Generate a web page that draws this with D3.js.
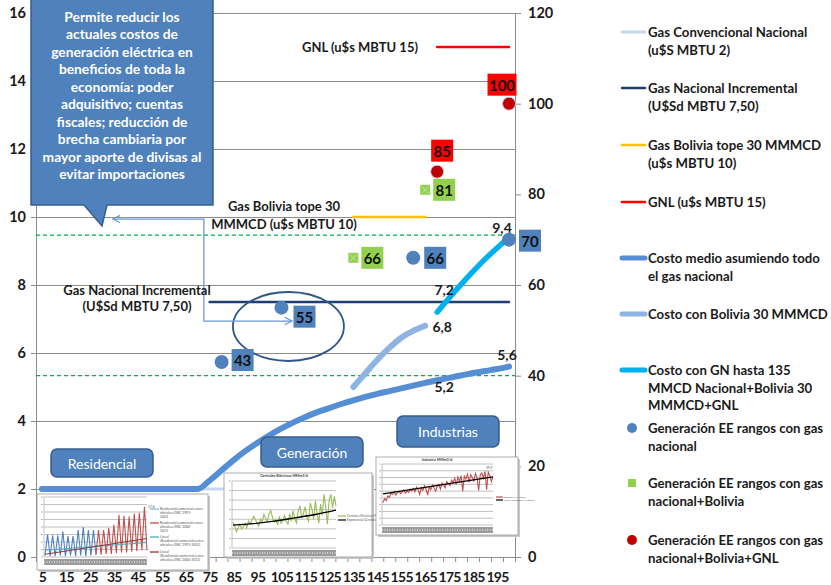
<!DOCTYPE html>
<html>
<head>
<meta charset="utf-8">
<script src="https://cdn.jsdelivr.net/npm/d3@7"></script>
<style>
  body { margin: 0; background: #fff; }
  svg { display: block; font-family: Lato, "Open Sans", sans-serif; }
</style>
</head>
<body>
<svg id="chart" width="831" height="585"></svg>
<script>
// ---- Data --------------------------------------------------------------
// Demand categories (MMm3/d)
const categories = [5,10,15,20,25,30,35,40,45,50,55,60,65,70,75,80,85,90,95,100,
                    105,110,115,120,125,130,135,140,145,150,155,160,165,170,175,180,185,190,195,200];
const xTickLabels = [5,15,25,35,45,55,65,75,85,95,105,115,125,135,145,155,165,175,185,195];
const leftTicks = [0,2,4,6,8,10,12,14,16];
const rightTicks = [0,20,40,60,80,100,120];

// Gas prices (u$s/MBTU), flat segments
const gasConvencionalX = [5, 85];      const gasConvencionalY = [2, 2];
const gasIncrementalX  = [75, 200];    const gasIncrementalY  = [7.5, 7.5];
const gasBoliviaX      = [135, 165];   const gasBoliviaY      = [10, 10];
const gnlX             = [170, 200];   const gnlY             = [15, 15];

// Average cost assuming all domestic gas
const costoMedioY = [2,2,2,2,2,2,2,2,2,2,2,2,2,2,
                     2.25,2.55,2.85,3.12,3.36,3.58,3.78,3.96,4.12,4.26,4.38,4.5,4.61,4.71,
                     4.8,4.88,4.96,5.04,5.12,5.2,5.27,5.34,5.41,5.47,5.53,5.6];
// Cost with Bolivia 30 MMMCD
const costoBoliviaX = [135,140,145,150,155,160,165];
const costoBoliviaY = [5.0,5.4,5.8,6.15,6.45,6.65,6.8];
// Cost with domestic gas up to 135 + Bolivia 30 + LNG
const costoGnlX = [170,175,180,185,190,195,200];
const costoGnlY = [7.2,7.62,8.02,8.4,8.76,9.09,9.4];

// Power generation cost ranges (right axis)
const genNacionalX = [80,105,160,200];  const genNacionalV = [43,55,66,70];
const genBoliviaX  = [135,165];         const genBoliviaV  = [66,81];
const genGnlX      = [170,200];         const genGnlV      = [85,100];

// Value labels on the cost curves
const costLabelX = [170,200,165,170,200];
const costLabelY = [5.2,5.6,6.8,7.2,9.4];

// Reference levels (right axis)
const refLevels = [40, 71];

// Sector thumbnails
const resBlue = [0.2,3.0,0.1,2.9,0.1,2.9,0.2,3.4,0.1,2.8,0.2,2.8,0.1,3.6,0.2,4.0,0.1,3.6,0.2,3.6,0.3];
const resRed  = [0.3,3.6,0.3,3.6,0.4,3.9,0.4,4.3,0.5,5.6,0.6,5.5,0.6,5.4,0.7,5.8,0.8,5.9,0.9,6.7,0.9];
const resTrendBlue = [0.9, 1.93];
const resTrendRed  = [0.36, 2.47];
const genGreen = [2.7,2.3,1.7,2.1,2.5,2.0,2.2,2.6,2.1,2.8,2.5,2.9,3.3,3.0,2.6,2.3,3.0,2.7,3.5,3.1,
                  2.8,3.6,3.9,3.2,2.7,3.0,2.4,3.3,2.6,2.9,3.4,2.8,2.5,3.6,2.8,3.9,3.0,2.6,3.9,4.4,
                  3.1,3.6,4.3,3.2,2.8,4.7,4.1,3.0,4.9,3.6,2.6,4.6,3.4,5.6,4.3,2.5,5.0,5.6,4.2,5.4,4.4];
const genTrend = [2.4,2.55,2.8,3.15,3.5,3.95];
const indRed = [3.3,3.9,3.6,4.3,4.1,4.7,4.5,4.9,4.4,4.8,5.0,4.6,4.9,5.2,4.7,5.0,4.8,5.3,5.0,5.4,
                4.9,5.6,5.2,4.5,5.5,5.1,5.8,5.3,4.4,5.6,5.2,5.9,5.5,5.0,5.7,6.0,5.3,6.2,5.9,5.5,
                6.4,6.1,5.8,6.6,6.3,6.9,6.0,7.1,6.4,7.3,5.0,7.2,6.8,7.5,6.3,7.4,7.0,6.5,7.6,7.0,
                5.1,7.4,7.7,6.9,7.9,5.2,7.8,7.3,6.4,7.1];
const indTrend = [4.6, 7.1];

const calloutLines = ["Permite reducir los","actuales costos de","generación eléctrica en",
  "beneficios de toda la","economía: poder","adquisitivo; cuentas","fiscales; reducción de",
  "brecha cambiaria por","mayor aporte de divisas al","evitar importaciones"];

// ---- Scales ------------------------------------------------------------
const svg = d3.select("#chart");
const L = 36, R = 515, T = 13, B = 557;
const x  = d3.scaleLinear().domain([2.5, 202.5]).range([L, R]);
const yL = d3.scaleLinear().domain([0, 16]).range([B, T]);
const yR = d3.scaleLinear().domain([0, 120]).range([B, T]);
const fmt = v => String(v).replace(".", ",");
const GRID = "#8c8c8c";

// ---- Grid and axes -----------------------------------------------------
const grid = svg.append("g").attr("transform", `translate(${L},0)`)
  .call(d3.axisLeft(yL).tickValues(leftTicks.slice(1)).tickSize(-(R - L)).tickFormat(""));
grid.select(".domain").remove();
grid.selectAll("line").attr("stroke", GRID).attr("stroke-width", 1);

const axL = svg.append("g").attr("transform", `translate(${L},0)`)
  .call(d3.axisLeft(yL).tickValues(leftTicks).tickSize(5).tickPadding(5).tickSizeOuter(0));
const axR = svg.append("g").attr("transform", `translate(${R},0)`)
  .call(d3.axisRight(yR).tickValues(rightTicks).tickSize(6).tickPadding(7).tickSizeOuter(0));
const boundaries = categories.map(c => c - 2.5).concat([202.5]);
const axB = svg.append("g").attr("transform", `translate(0,${B})`)
  .call(d3.axisBottom(x).tickValues(boundaries).tickSize(5).tickFormat("").tickSizeOuter(0));
const axBL = svg.append("g").attr("transform", `translate(0,${B})`)
  .call(d3.axisBottom(x).tickValues(xTickLabels).tickSize(0).tickPadding(15));
axBL.select(".domain").remove();
[axL, axR, axB].forEach(a => {
  a.select(".domain").attr("stroke", GRID);
  a.selectAll("line").attr("stroke", GRID);
});
[axL, axR, axBL].forEach(a => a.selectAll("text")
  .attr("font-family", "Lato, sans-serif").attr("font-weight", 700)
  .attr("font-size", 14.5).attr("fill", "#1a1a1a"));
axBL.selectAll("text").attr("font-size", 14).attr("letter-spacing", -0.7);

// ---- Reference dashed levels -------------------------------------------
svg.append("g").selectAll("line").data(refLevels).join("line")
  .attr("x1", L).attr("x2", R)
  .attr("y1", d => yR(d)).attr("y2", d => yR(d))
  .attr("stroke", "#00b050").attr("stroke-width", 1.2).attr("stroke-dasharray", "4,3");

// ---- Lines -------------------------------------------------------------
const lineL = d3.line().x(d => x(d[0])).y(d => yL(d[1])).curve(d3.curveMonotoneX);
const zip = (a, b) => a.map((v, i) => [v, b[i]]);
function drawLine(xs, ys, color, w) {
  svg.append("path").datum(zip(xs, ys)).attr("d", lineL)
    .attr("fill", "none").attr("stroke", color).attr("stroke-width", w)
    .attr("stroke-linecap", "round").attr("stroke-linejoin", "round");
}
drawLine(gasConvencionalX, gasConvencionalY, "#c6d9f1", 3);
drawLine(gasIncrementalX, gasIncrementalY, "#1f3f6e", 2.5);
drawLine(gasBoliviaX, gasBoliviaY, "#ffc000", 2.5);
drawLine(gnlX, gnlY, "#ff0000", 2.5);
drawLine(categories, costoMedioY, "#558ed5", 6);
drawLine(costoBoliviaX, costoBoliviaY, "#8eb4e3", 6);
drawLine(costoGnlX, costoGnlY, "#00b0f0", 5.5);

// value labels on cost curves
const costLabelOffset = [[7, 6], [-2, -12], [17, 1], [7, -23], [-7, -10]];
svg.append("g").selectAll("text").data(zip(costLabelX, costLabelY)).join("text")
  .attr("x", (d, i) => x(d[0]) + costLabelOffset[i][0])
  .attr("y", (d, i) => yL(d[1]) + costLabelOffset[i][1])
  .attr("text-anchor", "middle").attr("dominant-baseline", "central")
  .attr("font-weight", 700).attr("font-size", 14).attr("fill", "#1a1a1a")
  .text(d => fmt(d[1]));

// ---- Annotation: ellipse + elbow connector --------------------------------
svg.append("ellipse").attr("cx", x(107.9)).attr("cy", yL(6.78)).attr("rx", 55.5).attr("ry", 34.5)
  .attr("fill", "none").attr("stroke", "#2f5689").attr("stroke-width", 1.8);

const defs = svg.append("defs");
defs.append("marker").attr("id", "arr").attr("viewBox", "0 0 10 10").attr("refX", 9).attr("refY", 5)
  .attr("markerWidth", 7).attr("markerHeight", 7).attr("orient", "auto-start-reverse")
  .append("path").attr("d", "M1,1 L9,5 L1,9").attr("fill", "none").attr("stroke", "#6a9ad8").attr("stroke-width", 1.3);
const conn = [[109.4, 6.94], [72.6, 6.94], [72.6, 9.94], [34.6, 9.94]];
svg.append("path").datum(conn)
  .attr("d", d3.line().x(d => x(d[0])).y(d => yL(d[1])))
  .attr("fill", "none").attr("stroke", "#6a9ad8").attr("stroke-width", 1.3)
  .attr("marker-start", "url(#arr)").attr("marker-end", "url(#arr)");

// ---- Scatter points with boxed labels -----------------------------------
function scatter(xs, vs, shape, fill, boxFill, offsets) {
  const g = svg.append("g");
  const pts = zip(xs, vs);
  if (shape === "circle") {
    g.selectAll("circle").data(pts).join("circle")
      .attr("cx", d => x(d[0])).attr("cy", d => yR(d[1]))
      .attr("r", fill === "#c00000" ? 6.5 : 7)
      .attr("fill", fill).attr("stroke", fill === "#c00000" ? "#c9c9e6" : "none").attr("stroke-width", 1);
  } else {
    const s = 10;
    g.selectAll("rect.pt").data(pts).join("rect").attr("class", "pt")
      .attr("x", d => x(d[0]) - s / 2).attr("y", d => yR(d[1]) - s / 2)
      .attr("width", s).attr("height", s).attr("fill", fill);
    g.selectAll("path.x").data(pts).join("path").attr("class", "x")
      .attr("d", d => { const cx = x(d[0]), cy = yR(d[1]);
        return `M${cx-3.5},${cy-3.5}L${cx+3.5},${cy+3.5}M${cx+3.5},${cy-3.5}L${cx-3.5},${cy+3.5}`; })
      .attr("stroke", "#c5e3a6").attr("stroke-width", 1);
  }
  pts.forEach((d, i) => {
    const cx = x(d[0]) + offsets[i][0], cy = yR(d[1]) + offsets[i][1];
    const w = String(d[1]).length > 2 ? 29 : 22;
    g.append("rect").attr("x", cx - w / 2).attr("y", cy - 11).attr("width", w).attr("height", 22).attr("fill", boxFill);
    g.append("text").attr("x", cx).attr("y", cy).attr("text-anchor", "middle").attr("dominant-baseline", "central")
      .attr("font-weight", 700).attr("font-size", 15).attr("fill", "#111").text(d[1]);
  });
}
scatter(genNacionalX, genNacionalV, "circle", "#4f81bd", "#4f81bd", [[21, -2], [23, 9], [22, 0], [21, 1]]);
scatter(genBoliviaX, genBoliviaV, "square", "#92d050", "#92d050", [[19, 0], [19, 0]]);
scatter(genGnlX, genGnlV, "circle", "#c00000", "#ff0000", [[5, -21], [-7, -19]]);

// ---- Text annotations -----------------------------------------------------
const annStyle = sel => sel.attr("font-weight", 700).attr("font-size", 13).attr("fill", "#1a1a1a")
  .attr("dominant-baseline", "central");
annStyle(svg.append("text").attr("x", 302).attr("y", yL(15)).text("GNL (u$s MBTU 15)"));
annStyle(svg.append("text").attr("x", 284).attr("y", 206).attr("text-anchor", "middle").text("Gas Bolivia tope 30"));
annStyle(svg.append("text").attr("x", 284).attr("y", 224).attr("text-anchor", "middle").text("MMMCD (u$s MBTU 10)"));
annStyle(svg.append("text").attr("x", 137).attr("y", 290).attr("text-anchor", "middle").text("Gas Nacional Incremental"));
annStyle(svg.append("text").attr("x", 137).attr("y", 306).attr("text-anchor", "middle").text("(U$Sd MBTU 7,50)"));

// ---- Callout -------------------------------------------------------------
svg.append("path").attr("d", "M31,-2 H213 V205 H107 L102,226 L84,205 H31 Z")
  .attr("fill", "#4f81bd").attr("stroke", "#385d8a").attr("stroke-width", 1.5);
svg.append("g").selectAll("text").data(calloutLines).join("text")
  .attr("x", 122).attr("y", (d, i) => 16 + i * 17.55)
  .attr("text-anchor", "middle").attr("dominant-baseline", "central")
  .attr("font-weight", 700).attr("font-size", 13.8).attr("fill", "#fff").text(d => d);

// ---- Sector thumbnails ------------------------------------------------------
function frame(x0, y0, w, h) {
  svg.append("rect").attr("x", x0 + 2).attr("y", y0 + 2).attr("width", w).attr("height", h).attr("fill", "#c8c8c8");
  svg.append("rect").attr("x", x0).attr("y", y0).attr("width", w).attr("height", h)
    .attr("fill", "#fff").attr("stroke", "#9a9a9a").attr("stroke-width", 0.8);
}
function miniPlot(px0, px1, py0, py1, ymax, nGrid) {
  const g = svg.append("g");
  const ys = d3.scaleLinear().domain([0, ymax]).range([py1, py0]);
  g.selectAll("line.g").data(d3.range(nGrid + 1)).join("line")
    .attr("x1", px0).attr("x2", px1)
    .attr("y1", i => ys(i * ymax / nGrid)).attr("y2", i => ys(i * ymax / nGrid))
    .attr("stroke", "#a6a6a6").attr("stroke-width", 0.7);
  g.append("line").attr("x1", px0).attr("x2", px0).attr("y1", py0).attr("y2", py1)
    .attr("stroke", "#a6a6a6").attr("stroke-width", 0.7);
  g.selectAll("line.t").data(d3.range(nGrid + 1)).join("line")
    .attr("x1", px0 - 3).attr("x2", px0 - 1)
    .attr("y1", i => ys(i * ymax / nGrid)).attr("y2", i => ys(i * ymax / nGrid))
    .attr("stroke", "#888").attr("stroke-width", 0.6);
  // dense category label band
  g.append("rect").attr("x", px0).attr("y", py1 + 2).attr("width", px1 - px0).attr("height", 6).attr("fill", "#9b9b9b");
  g.append("line").attr("x1", px0).attr("x2", px1).attr("y1", py1 + 5).attr("y2", py1 + 5)
    .attr("stroke", "#e0e0e0").attr("stroke-width", 1.5).attr("stroke-dasharray", "1,1.5");
  return ys;
}
function seriesLine(vals, i0, n, px0, px1, ys, color, w, curve) {
  const xs = d3.scaleLinear().domain([0, n - 1]).range([px0, px1]);
  svg.append("path").datum(vals)
    .attr("d", d3.line().x((d, i) => xs(i + i0)).y(d => ys(d)).curve(curve || d3.curveLinear))
    .attr("fill", "none").attr("stroke", color).attr("stroke-width", w);
}
function tinyText(x0, y0, lines, size) {
  svg.append("g").selectAll("text").data(lines).join("text")
    .attr("x", x0).attr("y", (d, i) => y0 + i * size * 1.2)
    .attr("font-size", size).attr("fill", "#555").attr("dominant-baseline", "central").text(d => d);
}

// Residential
frame(37, 494, 171, 76);
{
  const ys = miniPlot(44, 147, 497, 557, 8, 8);
  const n = resBlue.length + resRed.length - 1;
  seriesLine(resBlue, 0, n, 45, 147, ys, "#4f81bd", 1.1);
  seriesLine(resRed, resBlue.length - 1, n, 45, 147, ys, "#c0504d", 1.1);
  seriesLine(resTrendBlue, 0, 2, 45, 147, ys, "#4bacc6", 1);
  seriesLine(resTrendRed, 0, 2, 45, 147, ys, "#943634", 1);
  const leg = [["#8db3e2", 509, ["Residencial+comercial+entes", "oficiales+GNC 1993-", "2003"]],
               ["#c0504d", 523, ["Residencial+comercial+entes", "oficiales+GNC 2004-", "2013"]],
               ["#4bacc6", 537, ["Lineal", "(Residencial+comercial+entes", "oficiales+GNC 1993-2003)"]],
               ["#943634", 552, ["Lineal", "(Residencial+comercial+entes", "oficiales+GNC 2004-2013)"]]];
  leg.forEach(l => {
    svg.append("line").attr("x1", 150).attr("x2", 159).attr("y1", l[1]).attr("y2", l[1])
      .attr("stroke", l[0]).attr("stroke-width", 1.3);
    tinyText(160, l[1], l[2], 3.4);
  });
  tinyText(148, 507, ["37,6"], 3.4);
}

// Generation
frame(224, 473, 148, 84);
{
  const ys = miniPlot(232, 336, 481, 548, 7, 7);
  seriesLine(genGreen, 0, genGreen.length, 233, 336, ys, "#9bbb59", 1.1);
  seriesLine(genTrend, 0, genTrend.length, 233, 336, ys, "#000", 1.3, d3.curveMonotoneX);
  svg.append("text").attr("x", 284).attr("y", 477).attr("text-anchor", "middle")
    .attr("font-size", 3.6).attr("font-weight", 700).attr("fill", "#333").text("Centrales Eléctricas MMm3/d");
  svg.append("line").attr("x1", 338).attr("x2", 346).attr("y1", 516).attr("y2", 516).attr("stroke", "#9bbb59").attr("stroke-width", 1.2);
  svg.append("line").attr("x1", 338).attr("x2", 346).attr("y1", 520).attr("y2", 520).attr("stroke", "#000").attr("stroke-width", 1.2);
  tinyText(347, 516, ["Centrales Eléctricas MMm3/d"], 3);
  tinyText(347, 520, ["Exponencial (Centrales Eléctricas MMm3/d)"], 3);
}

// Industry
frame(376, 457, 142, 78);
{
  const ys = miniPlot(382, 493, 464, 525, 9, 9);
  seriesLine(indRed, 0, indRed.length, 383, 493, ys, "#c0504d", 1.1);
  seriesLine(indTrend, 0, 2, 383, 493, ys, "#000", 1.3);
  svg.append("text").attr("x", 437).attr("y", 460.5).attr("text-anchor", "middle")
    .attr("font-size", 3.6).attr("font-weight", 700).attr("fill", "#333").text("Industria MMm3/d");
  svg.append("line").attr("x1", 496).attr("x2", 503).attr("y1", 497).attr("y2", 497).attr("stroke", "#c0504d").attr("stroke-width", 1.2);
  svg.append("line").attr("x1", 496).attr("x2", 503).attr("y1", 500).attr("y2", 500).attr("stroke", "#000").attr("stroke-width", 1.2);
  tinyText(504, 497, ["Industria MMm3/d"], 2.6);
  tinyText(504, 500, ["Lineal (Industria MMm3/d)"], 2.6);
  tinyText(486, 468, ["39,9"], 3.2);
}

// Sector labels
[["Residencial", 51, 449, 102, 28], ["Generación", 261, 437, 102, 30], ["Industrias", 397, 416, 102, 31]]
  .forEach(s => {
    svg.append("rect").attr("x", s[1]).attr("y", s[2]).attr("width", s[3]).attr("height", s[4])
      .attr("rx", 6).attr("fill", "#4f81bd").attr("stroke", "#385d8a").attr("stroke-width", 1.5);
    svg.append("text").attr("x", s[1] + s[3] / 2).attr("y", s[2] + s[4] / 2)
      .attr("text-anchor", "middle").attr("dominant-baseline", "central")
      .attr("font-size", 14).attr("fill", "#fff").text(s[0]);
  });

// ---- Legend ---------------------------------------------------------------
const legendItems = [
  { y: 32,  type: "line", color: "#c6d9f1", w: 3,   lines: ["Gas Convencional Nacional", "(u$S MBTU 2)"] },
  { y: 88,  type: "line", color: "#1f3f6e", w: 2.5, lines: ["Gas Nacional Incremental", "(U$Sd MBTU 7,50)"] },
  { y: 145, type: "line", color: "#ffc000", w: 2.5, lines: ["Gas Bolivia tope 30 MMMCD", "(u$s MBTU 10)"] },
  { y: 202, type: "line", color: "#ff0000", w: 2.5, lines: ["GNL (u$s MBTU 15)"] },
  { y: 258, type: "line", color: "#558ed5", w: 5,   lines: ["Costo medio asumiendo todo", "el gas nacional"] },
  { y: 314, type: "line", color: "#8eb4e3", w: 5,   lines: ["Costo con Bolivia 30 MMMCD"] },
  { y: 370, type: "line", color: "#00b0f0", w: 5,   lines: ["Costo con GN hasta 135", "MMCD Nacional+Bolivia 30", "MMMCD+GNL"] },
  { y: 428, type: "circle", color: "#4f81bd", lines: ["Generación EE rangos con gas", "nacional"] },
  { y: 483, type: "square", color: "#92d050", lines: ["Generación EE rangos con gas", "nacional+Bolivia"] },
  { y: 540, type: "circle", color: "#c00000", lines: ["Generación EE rangos con gas", "nacional+Bolivia+GNL"] }
];
const lg = svg.append("g");
legendItems.forEach(it => {
  if (it.type === "line") {
    lg.append("line").attr("x1", 622).attr("x2", 645).attr("y1", it.y).attr("y2", it.y)
      .attr("stroke", it.color).attr("stroke-width", it.w).attr("stroke-linecap", "round");
  } else if (it.type === "circle") {
    lg.append("circle").attr("cx", 632).attr("cy", it.y).attr("r", 5).attr("fill", it.color);
  } else {
    lg.append("rect").attr("x", 628).attr("y", it.y - 4).attr("width", 8).attr("height", 8).attr("fill", it.color);
  }
  it.lines.forEach((t, i) => {
    lg.append("text").attr("x", 648).attr("y", it.y + i * 17.5)
      .attr("dominant-baseline", "central").attr("font-weight", 700).attr("font-size", 13.2)
      .attr("fill", "#1a1a1a").text(t);
  });
});
</script>
</body>
</html>
